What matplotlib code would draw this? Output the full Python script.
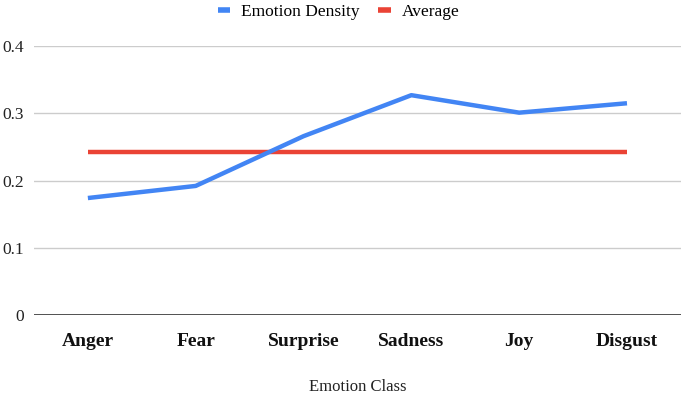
import matplotlib
matplotlib.use("Agg")
import matplotlib.pyplot as plt
from matplotlib.lines import Line2D

categories = ["Anger", "Fear", "Surprise", "Sadness", "Joy", "Disgust"]
density = [0.174, 0.192, 0.266, 0.327, 0.301, 0.315]
average = [0.242] * 6
y_ticks = [0, 0.1, 0.2, 0.3, 0.4]
y_tick_labels = ["0", "0.1", "0.2", "0.3", "0.4"]

plt.rcParams['font.family'] = ['Liberation Serif', 'DejaVu Serif']

fig = plt.figure(figsize=(6.85, 4.01), dpi=100)
ax = fig.add_axes([0.0496, 0.2145, 0.9444, 0.6705])

x = list(range(len(categories)))
ax.plot(x, density, color="#4285F4", lw=3.2, solid_capstyle="butt", zorder=3)
ax.plot(x, average, color="#EA4335", lw=3.2, solid_capstyle="butt", zorder=2)

ax.set_xlim(-0.5, len(categories) - 0.5)
ax.set_ylim(0, 0.4)
ax.set_yticks(y_ticks)
ax.set_yticklabels(y_tick_labels, fontsize=12.5, color="#222222")
ax.set_xticks(x)
ax.set_xticklabels(categories, fontsize=14, fontweight="bold", color="#111111")
ax.tick_params(axis="both", length=0)
ax.tick_params(axis="y", pad=7)
ax.tick_params(axis="x", pad=13)

for yv in y_ticks[1:]:
    ax.axhline(yv, color="#cccccc", lw=1, zorder=1)
ax.axhline(0, color="#333333", lw=1.2, zorder=1)

for s in ax.spines.values():
    s.set_visible(False)

ax.set_xlabel("Emotion Class", fontsize=12, color="#222222", labelpad=21)

handles = [Line2D([0], [0], color="#4285F4", lw=4, solid_capstyle="butt"),
           Line2D([0], [0], color="#EA4335", lw=4, solid_capstyle="butt")]
fig.legend(handles, ["Emotion Density", "Average"], loc="center",
           bbox_to_anchor=(0.494, 0.97), ncol=2, frameon=False,
           fontsize=12.5, handlelength=0.7, handletextpad=0.63, columnspacing=1.1)

fig.savefig("out.png", dpi=100)
